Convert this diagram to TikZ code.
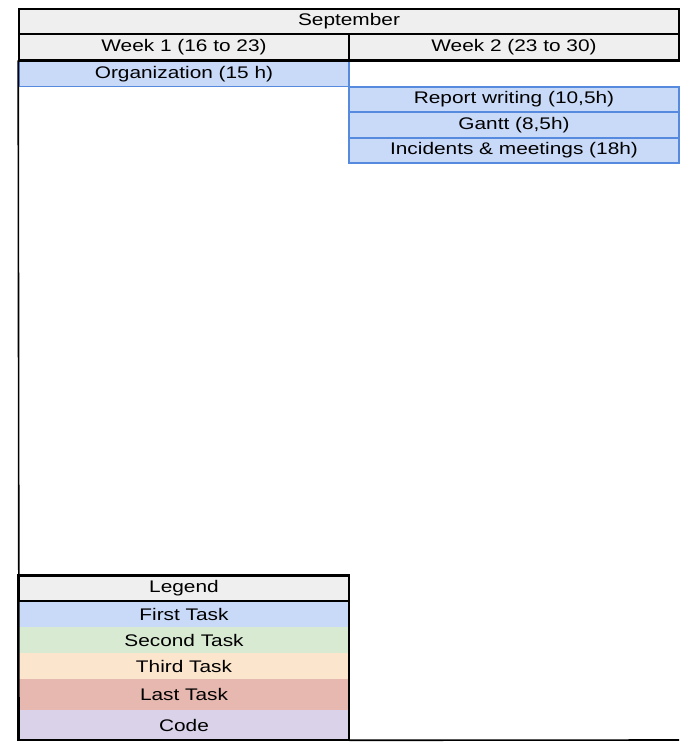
\documentclass[tikz,border=0pt]{standalone}
\usepackage{fontspec}
\setmainfont{Liberation Sans}[FakeStretch=1.24]
\usepackage{tikz}
\usetikzlibrary{calc}
\definecolor{gs_gray}{RGB}{239, 239, 239}
\definecolor{gs_blue}{RGB}{201, 218, 248}
\definecolor{gs_blue_line}{RGB}{85, 138, 222}
\definecolor{gs_green}{RGB}{217, 234, 211}
\definecolor{gs_orange}{RGB}{252, 229, 205}
\definecolor{gs_red}{RGB}{230, 184, 175}
\definecolor{gs_purple}{RGB}{217, 210, 233}
\tikzstyle{hd}=[rectangle,fill=gs_gray,draw=black,line width=1.2pt,
  inner sep=0pt,minimum height=19pt,font=\fontsize{12.6}{14}\selectfont]
\tikzstyle{task}=[rectangle,fill=gs_blue,draw=gs_blue_line,line width=1.1pt,
  inner sep=0pt,minimum width=247.5pt,minimum height=18.75pt,font=\fontsize{12.6}{14}\selectfont]
\tikzstyle{lg}=[rectangle,inner sep=0pt,minimum width=247.5pt,font=\fontsize{12.6}{14}\selectfont]
\tikzstyle{none}=[]

\begin{document}
\begin{tikzpicture}[x=0.75pt,y=-0.75pt]
        \useasboundingbox (0, 0) rectangle (693, 752);
        \node [style=hd, minimum width=495pt] (0) at (349, 21.5) {September};
        \node [style=hd, minimum width=247.5pt] (1) at (184, 47) {Week 1 (16 to 23)};
        \node [style=hd, minimum width=247.5pt] (2) at (514, 47) {Week 2 (23 to 30)};
        \node [style=task] (3) at (184, 74) {Organization (15 h)};
        \node [style=task] (4) at (514, 99.5) {Report writing (10,5h)};
        \node [style=task] (5) at (514, 125) {Gantt (8,5h)};
        \node [style=task] (6) at (514, 150.5) {Incidents \& meetings (18h)};
        \node [style=lg, fill=gs_blue, minimum height=19.5pt] (8) at (184, 614) {First Task};
        \node [style=lg, fill=gs_green, minimum height=19.5pt] (9) at (184, 640) {Second Task};
        \node [style=lg, fill=gs_orange, minimum height=19.5pt] (10) at (184, 666) {Third Task};
        \node [style=lg, fill=gs_red, minimum height=23.25pt] (11) at (184, 694.5) {Last Task};
        \node [style=lg, fill=gs_purple, minimum height=22.5pt] (12) at (184, 725) {Code};
        \node [style=hd, minimum width=247.5pt] (7) at (184, 588.5) {Legend};
        \coordinate (13) at (19, 740);
        \coordinate (14) at (679, 740);
        \draw [line width=2.6pt] (1.south west) -- (2.south east);
        \draw [line width=1.2pt] (1.south west) -- (13);
        \draw [line width=1.2pt] (12.south east) -- (14);
        \draw [line width=1.2pt] (7.north west) rectangle (12.south east);
    \end{tikzpicture}
\end{document}
